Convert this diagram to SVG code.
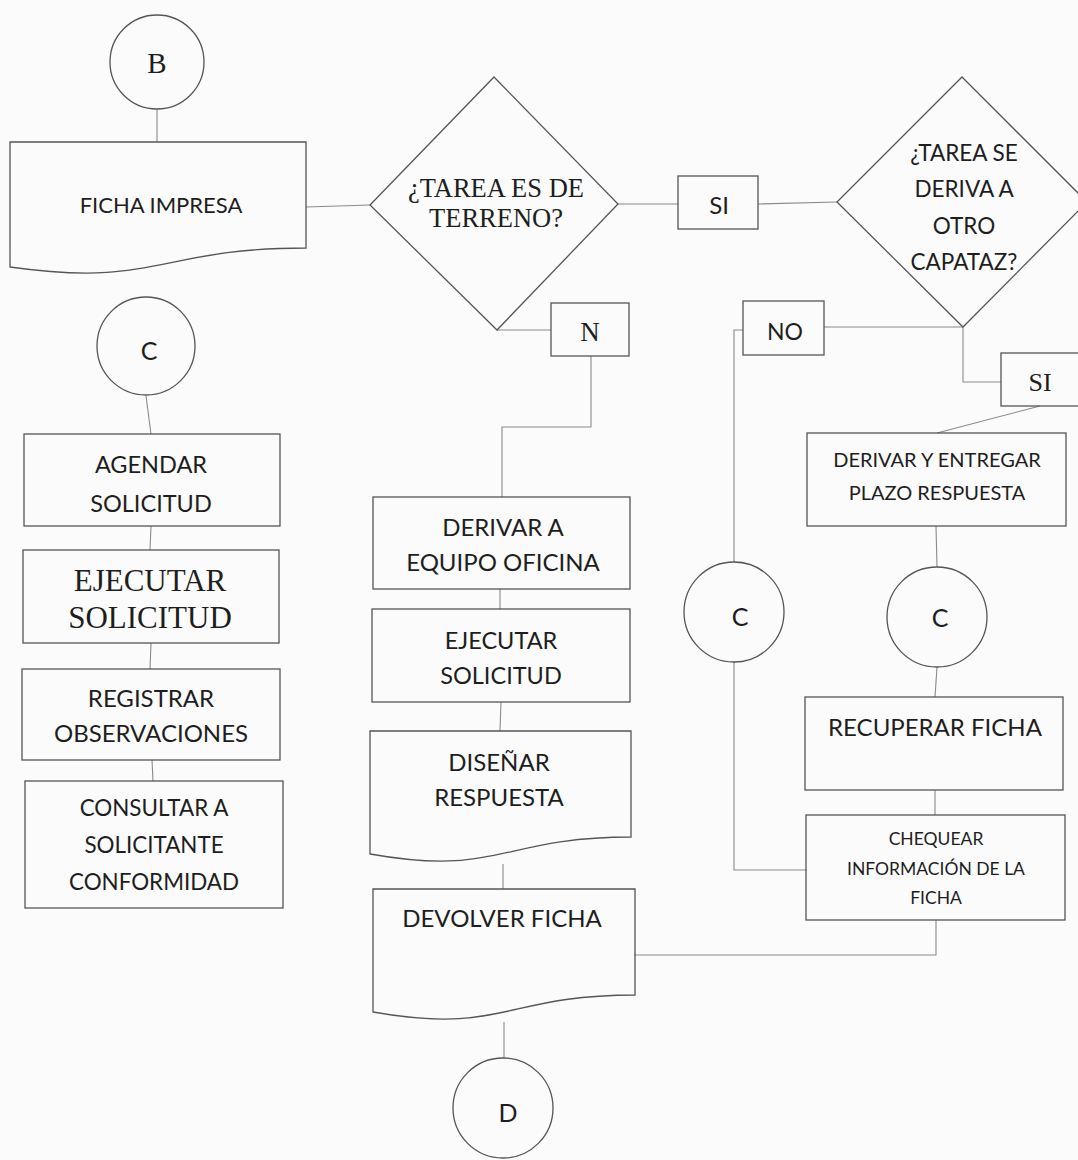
<svg xmlns="http://www.w3.org/2000/svg" width="1078" height="1160" viewBox="0 0 1078 1160">
  <style>
    .bg { fill: #fbfbfb; }
    .shape { fill: none; stroke: #555; stroke-width: 1.3; }
    .conn { fill: none; stroke: #8a8a8a; stroke-width: 1.1; }
    .sans { font-family: Lato, "Open Sans", sans-serif; fill: #1e1e1e; text-anchor: middle; }
    .serif { font-family: "Liberation Serif", serif; fill: #1e1e1e; text-anchor: middle; }
  </style>
  <rect class="bg" x="0" y="0" width="1078" height="1160"/>

  <!-- connectors -->
  <g id="connectors">
    <line class="conn" x1="157" y1="109" x2="157" y2="142"/>
    <line class="conn" x1="306" y1="207" x2="370" y2="205"/>
    <line class="conn" x1="618" y1="204" x2="678" y2="204"/>
    <line class="conn" x1="758" y1="204" x2="837" y2="202"/>
    <line class="conn" x1="497" y1="330" x2="551" y2="330"/>
    <polyline class="conn" points="591,356 591,427 502,427 502,497"/>
    <line class="conn" x1="963" y1="327" x2="824" y2="327"/>
    <polyline class="conn" points="743,330 734,330 734,562"/>
    <polyline class="conn" points="734,662 734,870 807,870"/>
    <polyline class="conn" points="963,327 963,382 1001,382"/>
    <line class="conn" x1="1040" y1="406" x2="937" y2="433"/>
    <line class="conn" x1="936" y1="526" x2="937" y2="567"/>
    <line class="conn" x1="937" y1="667" x2="935" y2="697"/>
    <line class="conn" x1="935" y1="790" x2="935" y2="815"/>
    <polyline class="conn" points="936,920 936,955 634,955"/>
    <line class="conn" x1="146" y1="396" x2="151" y2="434"/>
    <line class="conn" x1="151" y1="526" x2="150" y2="550"/>
    <line class="conn" x1="151" y1="643" x2="150" y2="669"/>
    <line class="conn" x1="152" y1="760" x2="153" y2="781"/>
    <line class="conn" x1="500" y1="589" x2="500" y2="609"/>
    <line class="conn" x1="501" y1="702" x2="500" y2="731"/>
    <line class="conn" x1="503" y1="864" x2="503" y2="889"/>
    <line class="conn" x1="504" y1="1022" x2="504" y2="1058"/>
  </g>

  <!-- left column -->
  <g id="node-b">
    <circle class="shape" cx="157" cy="62" r="47"/>
    <text class="serif" x="157" y="73" font-size="29">B</text>
  </g>
  <g id="node-ficha-impresa">
    <path class="shape" d="M10,142 H306 V248 C158,248 158,288 10,267 Z"/>
    <text class="sans" x="161" y="213" font-size="22">FICHA IMPRESA</text>
  </g>
  <g id="node-c-left">
    <circle class="shape" cx="146" cy="346" r="49"/>
    <text class="sans" x="149" y="360" font-size="25">C</text>
  </g>
  <g id="node-agendar">
    <rect class="shape" x="24" y="434" width="256" height="92"/>
    <text class="sans" x="151" y="473" font-size="23.5">AGENDAR</text>
    <text class="sans" x="151" y="512" font-size="23.5">SOLICITUD</text>
  </g>
  <g id="node-ejecutar-left">
    <rect class="shape" x="23" y="550" width="256" height="93"/>
    <text class="serif" x="150" y="591" font-size="31">EJECUTAR</text>
    <text class="serif" x="150" y="628" font-size="31">SOLICITUD</text>
  </g>
  <g id="node-registrar">
    <rect class="shape" x="22" y="669" width="258" height="91"/>
    <text class="sans" x="151" y="707" font-size="24">REGISTRAR</text>
    <text class="sans" x="151" y="742" font-size="24">OBSERVACIONES</text>
  </g>
  <g id="node-consultar">
    <rect class="shape" x="25" y="781" width="258" height="127"/>
    <text class="sans" x="154" y="816" font-size="22.4">CONSULTAR A</text>
    <text class="sans" x="154" y="853" font-size="22.4">SOLICITANTE</text>
    <text class="sans" x="154" y="890" font-size="22.4">CONFORMIDAD</text>
  </g>

  <!-- middle column -->
  <g id="node-tarea-terreno">
    <polygon class="shape" points="494,77 618,204 497,330 370,205"/>
    <text class="serif" x="496" y="197" font-size="26.5">¿TAREA ES DE</text>
    <text class="serif" x="496" y="227" font-size="26.5">TERRENO?</text>
  </g>
  <g id="node-n">
    <rect class="shape" x="551" y="303" width="78" height="53"/>
    <text class="serif" x="590" y="341" font-size="27">N</text>
  </g>
  <g id="node-derivar-oficina">
    <rect class="shape" x="373" y="497" width="257" height="92"/>
    <text class="sans" x="503" y="536" font-size="24">DERIVAR A</text>
    <text class="sans" x="503" y="571" font-size="24">EQUIPO OFICINA</text>
  </g>
  <g id="node-ejecutar-mid">
    <rect class="shape" x="372" y="609" width="258" height="93"/>
    <text class="sans" x="501" y="649" font-size="23.5">EJECUTAR</text>
    <text class="sans" x="501" y="684" font-size="23.5">SOLICITUD</text>
  </g>
  <g id="node-disenar">
    <path class="shape" d="M370,731 H631 V837 C500,837 500,877 370,854 Z"/>
    <text class="sans" x="499" y="771" font-size="24">DISEÑAR</text>
    <text class="sans" x="499" y="806" font-size="24">RESPUESTA</text>
  </g>
  <g id="node-devolver">
    <path class="shape" d="M373,889 H635 V995 C504,995 504,1035 373,1012 Z"/>
    <text class="sans" x="502" y="927" font-size="24">DEVOLVER FICHA</text>
  </g>
  <g id="node-d">
    <circle class="shape" cx="503" cy="1108" r="50"/>
    <text class="sans" x="508" y="1122" font-size="25">D</text>
  </g>

  <!-- right side -->
  <g id="node-si-1">
    <rect class="shape" x="678" y="176" width="80" height="53"/>
    <text class="sans" x="719" y="214" font-size="24">SI</text>
  </g>
  <g id="node-tarea-deriva">
    <polygon class="shape" points="962,77 1087,202 963,327 837,202"/>
    <text class="sans" x="964" y="161" font-size="22.5">¿TAREA SE</text>
    <text class="sans" x="964" y="197" font-size="22.5">DERIVA A</text>
    <text class="sans" x="964" y="234" font-size="22.5">OTRO</text>
    <text class="sans" x="964" y="270" font-size="22.5">CAPATAZ?</text>
  </g>
  <g id="node-no">
    <rect class="shape" x="743" y="301" width="81" height="54"/>
    <text class="sans" x="785" y="340" font-size="23">NO</text>
  </g>
  <g id="node-si-2">
    <rect class="shape" x="1001" y="353" width="80" height="53"/>
    <text class="serif" x="1040" y="391" font-size="26">SI</text>
  </g>
  <g id="node-derivar-plazo">
    <rect class="shape" x="807" y="433" width="259" height="93"/>
    <text class="sans" x="937" y="467" font-size="20">DERIVAR Y ENTREGAR</text>
    <text class="sans" x="937" y="500" font-size="20">PLAZO RESPUESTA</text>
  </g>
  <g id="node-c-mid">
    <circle class="shape" cx="734" cy="612" r="50"/>
    <text class="sans" x="740" y="626" font-size="25">C</text>
  </g>
  <g id="node-c-right">
    <circle class="shape" cx="937" cy="617" r="50"/>
    <text class="sans" x="940" y="627" font-size="25">C</text>
  </g>
  <g id="node-recuperar">
    <rect class="shape" x="805" y="697" width="258" height="93"/>
    <text class="sans" x="935" y="736" font-size="24">RECUPERAR FICHA</text>
  </g>
  <g id="node-chequear">
    <rect class="shape" x="806" y="815" width="259" height="105"/>
    <text class="sans" x="936" y="845" font-size="17.5">CHEQUEAR</text>
    <text class="sans" x="936" y="875" font-size="17.5">INFORMACIÓN DE LA</text>
    <text class="sans" x="936" y="904" font-size="17.5">FICHA</text>
  </g>
</svg>
